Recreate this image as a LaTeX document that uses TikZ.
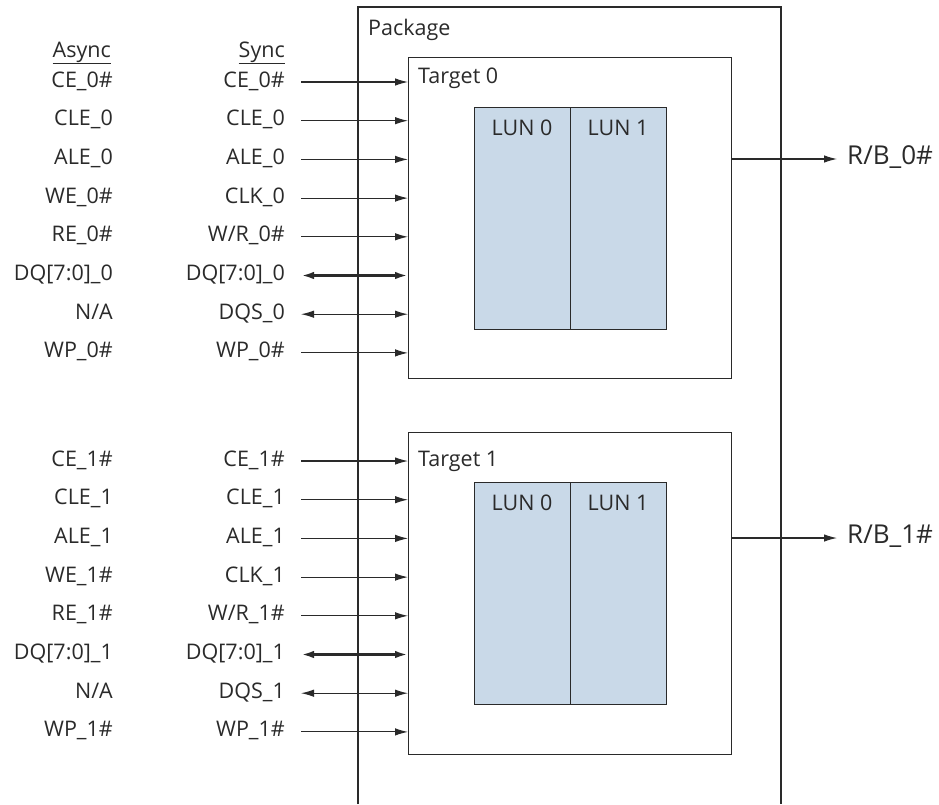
\documentclass[tikz,border=0pt]{standalone}
\usepackage{fontspec}
\setmainfont{Open Sans}
\usetikzlibrary{arrows.meta}
\definecolor{ink}{HTML}{2A2A2A}
\definecolor{lunfill}{HTML}{C9D9E8}
\begin{document}
\begin{tikzpicture}[x=1pt,y=-1pt,
  lbl/.style={inner sep=0pt, font=\fontsize{21.5}{25}\selectfont, text=ink, text height=15pt, text depth=5pt},
  biglbl/.style={lbl, font=\fontsize{26}{30}\selectfont},
  box/.style={draw=ink, line width=1.1pt, inner sep=0pt},
  lun/.style={box, fill=lunfill, minimum width=96pt, minimum height=222pt, anchor=north west},
  sig/.style={draw=ink, line width=1.1pt, -{Latex[length=13pt,width=7.5pt]}},
  bidi/.style={draw=ink, line width=1.1pt, {Latex[length=13pt,width=7.5pt]}-{Latex[length=13pt,width=7.5pt]}},
  bus/.style={draw=ink, line width=2.6pt, {Latex[length=13pt,width=7.5pt]}-{Latex[length=13pt,width=7.5pt]}}
]
\useasboundingbox (0,0) rectangle (939,804);

% package (open at bottom)
\draw[ink, line width=1.1pt] (358,804) -- (358,7) -- (781,7) -- (781,804);
\node[lbl, anchor=west] (pkg) at (368,30) {Package};

% headers
\node[lbl, anchor=east] (hasync) at (111,52) {\underline{Async}};
\node[lbl, anchor=east] (hsync) at (285,52) {\underline{Sync}};

% targets
\node[box, minimum width=323pt, minimum height=321pt, anchor=north west] (t0) at (408,57) {};
\node[box, minimum width=323pt, minimum height=322pt, anchor=north west] (t1) at (408,432) {};
\node[lbl, anchor=west] (t0l) at (418,78) {Target 0};
\node[lbl, anchor=west] (t1l) at (418,461) {Target 1};

% LUNs
\node[lun] (l00) at (474,107) {};
\node[lun] (l01) at (570,107) {};
\node[lun] (l10) at (474,482) {};
\node[lun] (l11) at (570,482) {};
\node[lbl] (l00t) at (522,130) {LUN 0};
\node[lbl] (l01t) at (618,130) {LUN 1};
\node[lbl] (l10t) at (522,505) {LUN 0};
\node[lbl] (l11t) at (618,505) {LUN 1};

% signals
\foreach \t/\y in {0/82,1/461} {
  \foreach \i/\a/\s/\k in {0/{CE\_\t\#}/{CE\_\t\#}/sig,
                          1/{CLE\_\t}/{CLE\_\t}/sig,
                          2/{ALE\_\t}/{ALE\_\t}/sig,
                          3/{WE\_\t\#}/{CLK\_\t}/sig,
                          4/{RE\_\t\#}/{W/R\_\t\#}/sig,
                          5/{DQ[7:0]\_\t}/{DQ[7:0]\_\t}/bus,
                          6/{N/A}/{DQS\_\t}/bidi,
                          7/{WP\_\t\#}/{WP\_\t\#}/sig} {
    \pgfmathsetmacro{\yy}{\y+38.7*\i}
    \node[lbl, anchor=east] (a\t\i) at (113,\yy) {\a};
    \node[lbl, anchor=east] (s\t\i) at (285,\yy) {\s};
    \draw[\k] ([xshift=16pt]s\t\i.east) -- (s\t\i.east -| t\t.west);
  }
}

% ready/busy outputs
\coordinate (rb0) at (837,159);
\coordinate (rb1) at (837,538);
\draw[sig] (t0.east |- rb0) -- (rb0);
\draw[sig] (t1.east |- rb1) -- (rb1);
\node[biglbl, anchor=west] (rb0l) at (847,159) {R/B\_0\#};
\node[biglbl, anchor=west] (rb1l) at (847,538) {R/B\_1\#};
\end{tikzpicture}
\end{document}
